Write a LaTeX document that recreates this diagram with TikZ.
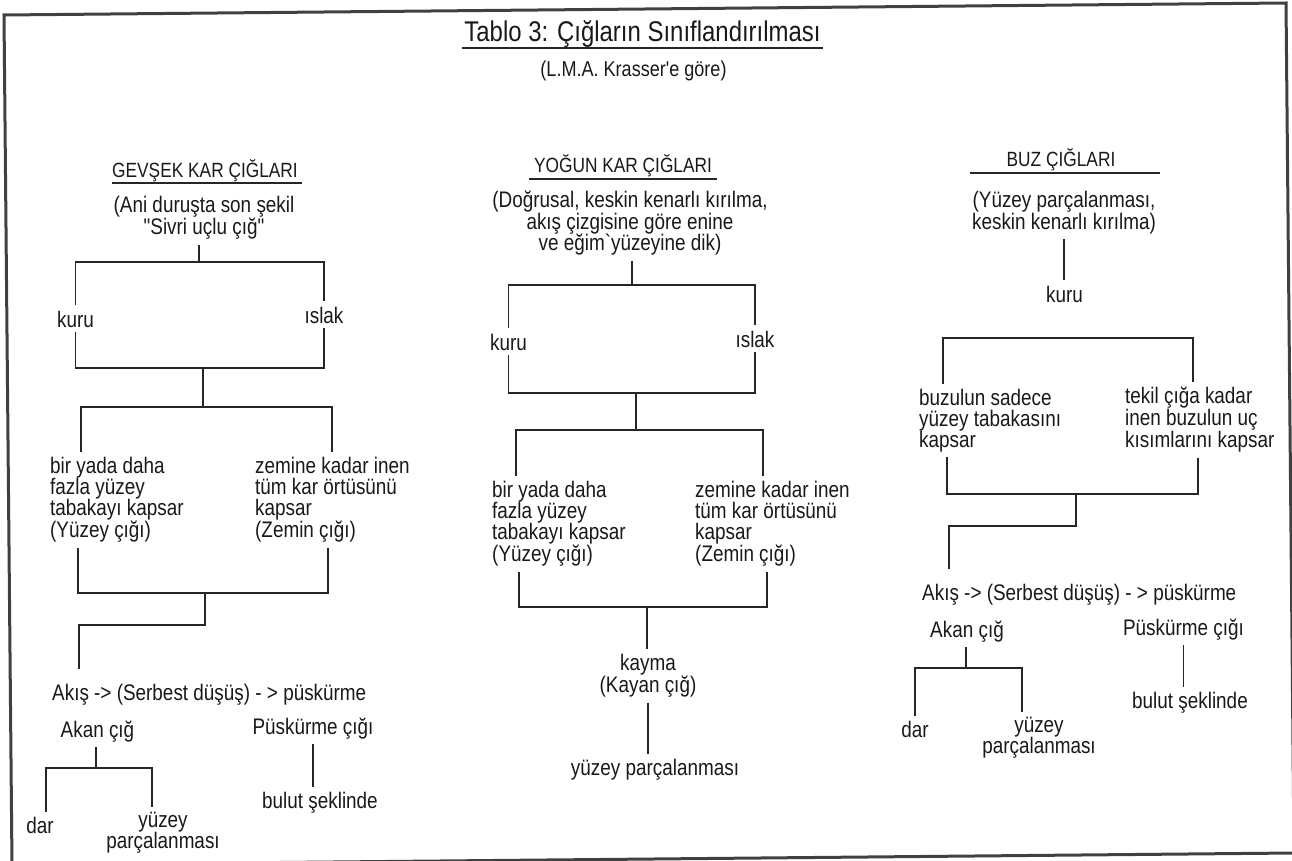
\documentclass[tikz,border=0pt]{standalone}
\usepackage{fontspec}
\newfontfamily\diagfont{Liberation Sans}[FakeStretch=0.84]
\usepackage{tikz}
\usetikzlibrary{calc}

\begin{document}
\begin{tikzpicture}[x=1pt, y=-1pt,
    lbl/.style={font=\diagfont\fontsize{22.5}{21}\selectfont, inner sep=5pt, text=black!90},
    lblc/.style={lbl, align=center},
    lbll/.style={lbl, align=left},
    head/.style={font=\diagfont\fontsize{20.6}{20}\selectfont, inner xsep=0pt, inner ysep=3pt, text=black!90},
    conn/.style={line width=1.3pt, black!85},
    uline/.style={line width=1.3pt, black!85},
    frame/.style={line width=3pt, black!75, line join=miter}]
    \useasboundingbox (0,0) rectangle (1292,861);
    \clip (0,0) rectangle (1292,861);
    \draw[frame] (4,15) -- (1286,3) -- (1294,853) -- (12,865) -- cycle;

    \node[font=\diagfont\fontsize{28.5}{28}\selectfont, inner xsep=2pt, anchor=base, text=black!90] (title) at (642.5,42) {Tablo 3: Çığların Sınıflandırılması};
    \draw[uline] ([yshift=-6pt]title.base west) -- ([yshift=-6pt]title.base east);
    \node[lbl, font=\diagfont\fontsize{21.5}{21}\selectfont, anchor=base] (src) at (633.5,77) {(L.M.A. Krasser'e göre)};

    % gevsek kar
    \node[head, anchor=base] (head1) at (205,178) {GEVŞEK KAR ÇIĞLARI};
    \draw[uline] ([yshift=-5pt]head1.base west) -- ([xshift=4pt,yshift=-5pt]head1.base east);
    \node[lblc, anchor=north] (ani1) at (204,191) {(Ani duruşta son şekil\\"Sivri uçlu çığ"};
    \node[lbl, anchor=base] (kuru1) at (75.5,327) {kuru};
    \node[lbl, anchor=base] (islak1) at (324,323) {ıslak};
    \node[lbll, anchor=north west] (bir1) at (45,452) {bir yada daha\\fazla yüzey\\tabakayı kapsar\\(Yüzey çığı)};
    \node[lbll, anchor=north west] (zem1) at (250,452) {zemine kadar inen\\tüm kar örtüsünü\\kapsar\\(Zemin çığı)};
    \node[lbl, anchor=base west] (akis1) at (47,700) {Akış -> (Serbest düşüş) - > püskürme};
    \node[lbl, anchor=base] (akan1) at (97.5,737) {Akan çığ};
    \node[lbl, anchor=base] (pusk1) at (313,734) {Püskürme çığı};
    \node[lbl, anchor=base] (dar1) at (40,833) {dar};
    \node[lblc, anchor=north] (yuz1) at (163,807) {yüzey\\parçalanması};
    \node[lbl, anchor=base] (bulut1) at (320,808) {bulut şeklinde};

    \coordinate (j1a) at (199,262);
    \coordinate (j1b) at (203,368);
    \coordinate (j1c) at (203,407);
    \coordinate (j1d) at (205,593);
    \coordinate (j1e) at (96,768);
    \draw[conn] (ani1.south -| j1a) -- (j1a);
    \draw[conn] (kuru1.north) |- (j1a) -| (islak1.north);
    \draw[conn] (kuru1.south) |- (j1b) -| (islak1.south);
    \draw[conn] (j1b) -- (j1c);
    \draw[conn] ([xshift=36pt]bir1.north west) |- (j1c) -| ([xshift=82pt]zem1.north west);
    \draw[conn] ([xshift=33pt]bir1.south west) |- (j1d) -| ([xshift=78pt]zem1.south west);
    \draw[conn] (j1d) -- ++(0,32) -| ([xshift=32pt,yshift=10pt]akis1.north west);
    \draw[conn] (akan1.south -| j1e) -- (j1e);
    \draw[conn] ([xshift=6pt]dar1.north) |- (j1e) -| ([xshift=-11pt]yuz1.north);
    \draw[conn] (pusk1.south) -- (pusk1.south |- bulut1.north);

    % yogun kar
    \node[head, anchor=base] (head2) at (623,172) {YOĞUN KAR ÇIĞLARI};
    \draw[uline] ([xshift=-5pt,yshift=-7pt]head2.base west) -- ([xshift=5pt,yshift=-7pt]head2.base east);
    \node[lblc, font=\diagfont\fontsize{22.5}{21.5}\selectfont, anchor=north] (dog2) at (630,186) {(Doğrusal, keskin kenarlı kırılma,\\akış çizgisine göre enine\\ve eğim`yüzeyine dik)};
    \node[lbl, anchor=base] (kuru2) at (508.5,350) {kuru};
    \node[lbl, anchor=base] (islak2) at (755,347) {ıslak};
    \node[lbll, anchor=north west] (bir2) at (487,476) {bir yada daha\\fazla yüzey\\tabakayı kapsar\\(Yüzey çığı)};
    \node[lbll, anchor=north west] (zem2) at (690,476) {zemine kadar inen\\tüm kar örtüsünü\\kapsar\\(Zemin çığı)};
    \node[lblc, anchor=north] (kayma2) at (648,649) {kayma\\(Kayan çığ)};
    \node[lbl, anchor=base] (yp2) at (655,775) {yüzey parçalanması};

    \coordinate (j2a) at (632,285);
    \coordinate (j2b) at (636,393);
    \coordinate (j2c) at (636,430);
    \coordinate (j2d) at (647,607);
    \draw[conn] (dog2.south -| j2a) -- (j2a);
    \draw[conn] (kuru2.north) |- (j2a) -| (islak2.north);
    \draw[conn] (kuru2.south) |- (j2b) -| (islak2.south);
    \draw[conn] (j2b) -- (j2c);
    \draw[conn] ([xshift=29pt]bir2.north west) |- (j2c) -| ([xshift=73pt]zem2.north west);
    \draw[conn] ([xshift=32pt]bir2.south west) |- (j2d) -| ([xshift=77pt]zem2.south west);
    \draw[conn] (j2d) -- (kayma2.north -| j2d);
    \draw[conn] (kayma2.south) -- (kayma2.south |- yp2.north);

    % buz
    \node[head, anchor=base] (head3) at (1061,167) {BUZ ÇIĞLARI};
    \draw[uline] ([xshift=-36pt,yshift=-6pt]head3.base west) -- ([xshift=44pt,yshift=-6pt]head3.base east);
    \node[lblc, font=\diagfont\fontsize{22.5}{18}\selectfont, anchor=north] (yp3) at (1064,186) {(Yüzey parçalanması,\\keskin kenarlı kırılma)};
    \node[lbl, anchor=base] (kuru3) at (1064.5,302) {kuru};
    \node[lbll, anchor=north west] (buzA) at (914,384) {buzulun sadece\\yüzey tabakasını\\kapsar};
    \node[lbll, anchor=north west] (buzB) at (1120,382) {tekil çığa kadar\\inen buzulun uç\\kısımlarını kapsar};
    \node[lbl, anchor=base west] (akis3) at (917,600) {Akış -> (Serbest düşüş) - > püskürme};
    \node[lbl, anchor=base] (akan3) at (967,637) {Akan çığ};
    \node[lbl, anchor=base] (pusk3) at (1183.5,635) {Püskürme çığı};
    \node[lbl, anchor=base] (dar3) at (915,737) {dar};
    \node[lblc, anchor=north] (yuz3) at (1039,712) {yüzey\\parçalanması};
    \node[lbl, anchor=base] (bulut3) at (1190,708) {bulut şeklinde};

    \coordinate (j3a) at (1068,338);
    \coordinate (j3b) at (1076,494);
    \coordinate (j3c) at (966,668);
    \draw[conn] (yp3.south) -- (yp3.south |- kuru3.north);
    \draw[conn] ([xshift=29pt]buzA.north west) |- (j3a) -| ([xshift=73pt]buzB.north west);
    \draw[conn] ([xshift=33pt]buzA.south west) |- (j3b) -| ([xshift=78pt]buzB.south west);
    \draw[conn] (j3b) -- ++(0,32) -| ([xshift=32pt,yshift=10pt]akis3.north west);
    \draw[conn] (akan3.south -| j3c) -- (j3c);
    \draw[conn] (dar3.north) |- (j3c) -| ([xshift=-17pt]yuz3.north);
    \draw[conn] (pusk3.south) -- (pusk3.south |- bulut3.north);
\end{tikzpicture}
\end{document}
